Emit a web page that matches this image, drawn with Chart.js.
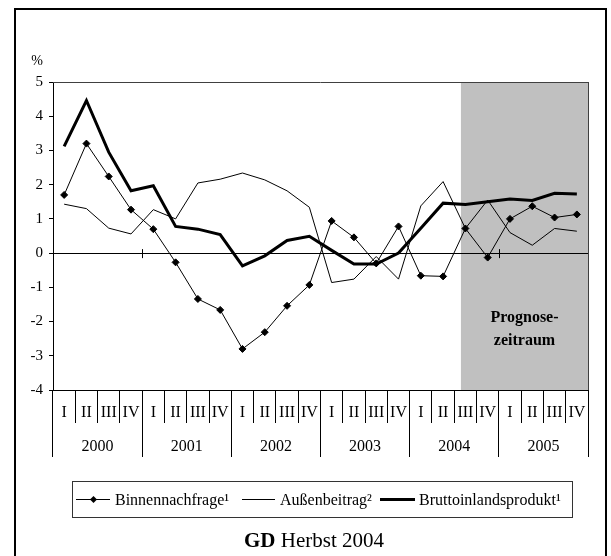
<!DOCTYPE html>
<html>
<head>
<meta charset="utf-8">
<script src="https://cdn.jsdelivr.net/npm/chart.js@4.4.0/dist/chart.umd.min.js"></script>
<style>
    html, body { margin: 0; padding: 0; background: #fff; }
    #wrap { position: relative; width: 611px; height: 556px; overflow: hidden;
            font-family: 'Liberation Serif', 'Times New Roman', serif; color: #000; }
    #chart { position: absolute; left: 0; top: 0; }
    .frame { position: absolute; left: 14px; top: 8px; width: 589px; height: 600px;
             border: 2px solid #000; }
    .legend-box { position: absolute; left: 72px; top: 481px; width: 499px; height: 35px;
                  border: 1px solid #333; }
    .sample { position: absolute; background: #000; }
    .diamond { position: absolute; width: 5px; height: 5px; background: #000; transform: rotate(45deg); }
    .ltext { position: absolute; top: 490px; font-size: 16px; line-height: 19px; white-space: nowrap; }
    .footer { position: absolute; left: 0; width: 628px; top: 528px; text-align: center;
              font-size: 21px; line-height: 24px; }
</style>
</head>
<body>
<div id="wrap">
    <div class="frame"></div>
    <canvas id="chart" width="611" height="556"></canvas>

    <!-- Legende -->
    <div class="legend-box"></div>
    <div class="sample" style="left:76px;top:499px;width:34px;height:1px;"></div>
    <div class="diamond" style="left:91px;top:497px;"></div>
    <div class="ltext" style="left:115px;">Binnennachfrage¹</div>
    <div class="sample" style="left:242px;top:499px;width:33px;height:1px;"></div>
    <div class="ltext" style="left:280px;">Außenbeitrag²</div>
    <div class="sample" style="left:380px;top:498px;width:35px;height:3px;"></div>
    <div class="ltext" style="left:419px;">Bruttoinlandsprodukt¹</div>

    <div class="footer"><b>GD</b> Herbst 2004</div>
</div>

<script>
// Kategorien
const quarters = ['I', 'II', 'III', 'IV', 'I', 'II', 'III', 'IV', 'I', 'II', 'III', 'IV',
                  'I', 'II', 'III', 'IV', 'I', 'II', 'III', 'IV', 'I', 'II', 'III', 'IV'];
const years = ['2000', '2001', '2002', '2003', '2004', '2005'];

// Reihen (Veränderung in %)
const binnennachfrage = [1.70, 3.20, 2.24, 1.27, 0.70, -0.27, -1.34, -1.66,
                         -2.80, -2.31, -1.54, -0.93, 0.94, 0.46, -0.30, 0.78,
                         -0.66, -0.68, 0.72, -0.13, 1.00, 1.37, 1.04, 1.13];
const aussenbeitrag = [1.43, 1.30, 0.73, 0.56, 1.27, 1.00, 2.05, 2.16,
                       2.34, 2.14, 1.82, 1.34, -0.86, -0.76, -0.10, -0.76,
                       1.38, 2.09, 0.72, 1.55, 0.60, 0.23, 0.72, 0.64];
const bip = [3.12, 4.46, 2.95, 1.82, 1.97, 0.78, 0.70, 0.54,
             -0.37, -0.08, 0.37, 0.49, 0.08, -0.32, -0.32, 0.00,
             0.73, 1.46, 1.42, 1.50, 1.58, 1.54, 1.75, 1.73];

// Prognosezeitraum ab (Kategorie-Index)
const forecastFrom = 17.8;
const yTicks = { min: -4, max: 5, step: 1 };

const serif = "'Liberation Serif', 'Times New Roman', serif";
Chart.defaults.font.family = serif;
Chart.defaults.color = '#000';

// Schattierung, Rahmen und Beschriftungen
const decorPlugin = {
    id: 'decor',
    beforeDraw(chart) {
        const {ctx, chartArea} = chart;
        const x0 = chart.scales.x.getPixelForValue(forecastFrom);
        ctx.save();
        ctx.fillStyle = '#c0c0c0';
        ctx.fillRect(x0, chartArea.top, chartArea.right - x0, chartArea.bottom - chartArea.top);
        ctx.restore();
    },
    afterDraw(chart) {
        const {ctx, chartArea} = chart;
        const xs = chart.scales.x, ys = chart.scales.y;
        ctx.save();
        // Rahmen oben und rechts
        ctx.strokeStyle = '#404040';
        ctx.lineWidth = 1;
        ctx.beginPath();
        ctx.moveTo(chartArea.left, Math.round(chartArea.top) + 0.5);
        ctx.lineTo(chartArea.right, Math.round(chartArea.top) + 0.5);
        ctx.moveTo(Math.round(chartArea.right) + 0.5, chartArea.top);
        ctx.lineTo(Math.round(chartArea.right) + 0.5, chartArea.bottom);
        ctx.stroke();

        // Teilstriche auf der Nulllinie
        const y0 = ys.getPixelForValue(0);
        ctx.strokeStyle = '#000';
        ctx.beginPath();
        [4, 20].forEach(i => {
            const x = Math.round(xs.getPixelForValue(i - 0.5)) + 0.5;
            ctx.moveTo(x, y0 - 4);
            ctx.lineTo(x, y0 + 5);
        });
        ctx.stroke();

        // Einheit
        ctx.fillStyle = '#000';
        ctx.font = '14px ' + serif;
        ctx.textAlign = 'center';
        ctx.textBaseline = 'middle';
        ctx.fillText('%', chartArea.left - 16, chartArea.top - 21);

        // Prognosezeitraum
        const xm = (xs.getPixelForValue(forecastFrom) + chartArea.right) / 2;
        ctx.font = 'bold 16px ' + serif;
        ctx.fillText('Prognose-', xm, ys.getPixelForValue(-1.9));
        ctx.fillText('zeitraum', xm, ys.getPixelForValue(-2.55));
        ctx.restore();
    }
};

new Chart(document.getElementById('chart'), {
    type: 'line',
    data: {
        labels: quarters,
        datasets: [
            {
                label: 'Binnennachfrage¹',
                data: binnennachfrage,
                borderColor: '#000',
                borderWidth: 1,
                pointStyle: 'rectRot',
                pointRadius: 3.5,
                pointBorderWidth: 1,
                pointBackgroundColor: '#000',
                pointBorderColor: '#000',
                tension: 0
            },
            {
                label: 'Außenbeitrag²',
                data: aussenbeitrag,
                borderColor: '#000',
                borderWidth: 1,
                pointRadius: 0,
                tension: 0
            },
            {
                label: 'Bruttoinlandsprodukt¹',
                data: bip,
                borderColor: '#000',
                borderWidth: 3,
                pointRadius: 0,
                tension: 0
            }
        ]
    },
    options: {
        responsive: false,
        animation: false,
        devicePixelRatio: 1,
        layout: { padding: { left: 0, top: 82, right: 23, bottom: 99 } },
        plugins: {
            legend: { display: false },
            tooltip: { enabled: false }
        },
        scales: {
            x: {
                type: 'category',
                position: 'bottom',
                offset: true,
                weight: 0,
                afterFit: s => { s.height = 33; },
                grid: { offset: true, drawOnChartArea: false, tickLength: 33, color: '#000', tickColor: '#000' },
                border: { display: true, color: '#000', width: 1 },
                ticks: { autoSkip: false, maxRotation: 0, padding: -20, font: { size: 16 }, color: '#000' }
            },
            x2: {
                type: 'category',
                axis: 'x',
                labels: years,
                position: 'bottom',
                offset: true,
                weight: 1,
                afterFit: s => { s.height = 34; },
                grid: { offset: true, drawOnChartArea: false, tickLength: 34, color: '#000', tickColor: '#000' },
                border: { display: false },
                ticks: { autoSkip: false, maxRotation: 0, padding: -20, font: { size: 16 }, color: '#000' }
            },
            y: {
                min: yTicks.min,
                max: yTicks.max,
                afterFit: s => { s.width = 53; },
                grid: {
                    drawOnChartArea: true,
                    tickLength: 4,
                    tickColor: '#000',
                    color: c => (c.tick && c.tick.value === 0) ? '#000' : 'rgba(0,0,0,0)'
                },
                border: { display: true, color: '#000', width: 1 },
                ticks: { stepSize: yTicks.step, padding: 6, font: { size: 15 }, color: '#000' }
            }
        }
    },
    plugins: [decorPlugin]
});
</script>
</body>
</html>
